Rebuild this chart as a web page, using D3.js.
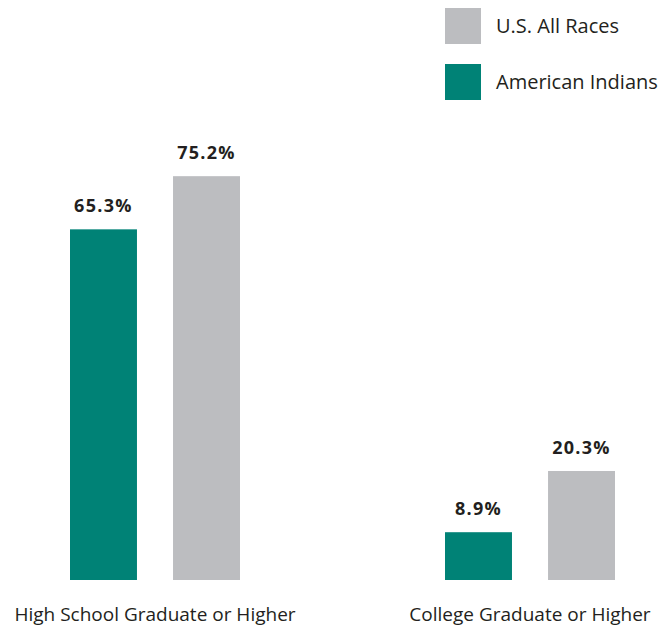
<!DOCTYPE html>
<html>
<head>
<meta charset="utf-8">
<script src="https://cdn.jsdelivr.net/npm/d3@7"></script>
<style>
  body { margin: 0; background: #fff; }
  text { font-family: "Open Sans", "Liberation Sans", Arial, sans-serif; }
</style>
</head>
<body>
<div id="chart"></div>
<script>
// data
var categories = ["High School Graduate or Higher", "College Graduate or Higher"];
var series = ["American Indians", "U.S. All Races"];
var americanIndians = [65.3, 8.9];
var usAllRaces = [75.2, 20.3];
var legendOrder = ["U.S. All Races", "American Indians"];

var colors = { "American Indians": "#008276", "U.S. All Races": "#bcbdc0" };

var svgWidth = 666;
var svgHeight = 631;

var svg = d3.select("#chart")
    .append("svg")
    .attr("width", svgWidth)
    .attr("height", svgHeight);

var rows = categories.map(function (c, i) {
    return { category: c, values: [
        { key: series[0], value: americanIndians[i] },
        { key: series[1], value: usAllRaces[i] }
    ] };
});

// scales
var x0 = d3.scaleBand()
    .domain(categories)
    .range([70, 615])
    .paddingInner(0.5467)
    .paddingOuter(0);

var x1 = d3.scaleBand()
    .domain(series)
    .range([0, x0.bandwidth()])
    .paddingInner(0.35)
    .paddingOuter(0);

var y = d3.scaleLinear()
    .domain([0, 100])
    .range([580, 43]);

var groups = svg.selectAll(".group")
    .data(rows)
    .enter()
    .append("g")
    .attr("class", "group")
    .attr("transform", d => `translate(${x0(d.category)}, 0)`);

groups.selectAll("rect")
    .data(d => d.values)
    .enter()
    .append("rect")
    .attr("x", d => x1(d.key))
    .attr("y", d => y(d.value))
    .attr("width", x1.bandwidth())
    .attr("height", d => y(0) - y(d.value))
    .attr("fill", d => colors[d.key]);

// value labels
groups.selectAll(".value")
    .data(d => d.values)
    .enter()
    .append("text")
    .attr("class", "value")
    .attr("x", d => x1(d.key) + x1.bandwidth() / 2)
    .attr("y", d => y(d.value) - 17)
    .attr("text-anchor", "middle")
    .attr("font-size", "18px")
    .attr("font-weight", "bold")
    .attr("letter-spacing", "1.3px")
    .attr("fill", "#231f20")
    .text(d => d.value.toFixed(1) + "%");

// category labels
groups.append("text")
    .attr("x", x0.bandwidth() / 2)
    .attr("y", 621)
    .attr("text-anchor", "middle")
    .attr("font-size", "19px")
    .attr("fill", "#231f20")
    .text(d => d.category);

// legend
var legend = svg.selectAll(".legend")
    .data(legendOrder)
    .enter()
    .append("g")
    .attr("class", "legend")
    .attr("transform", (d, i) => `translate(445, ${8 + i * 56})`);

legend.append("rect")
    .attr("width", 36)
    .attr("height", 36)
    .attr("fill", d => colors[d]);

legend.append("text")
    .attr("x", 51)
    .attr("y", 25)
    .attr("font-size", "20px")
    .attr("fill", "#231f20")
    .text(d => d);
</script>
</body>
</html>
